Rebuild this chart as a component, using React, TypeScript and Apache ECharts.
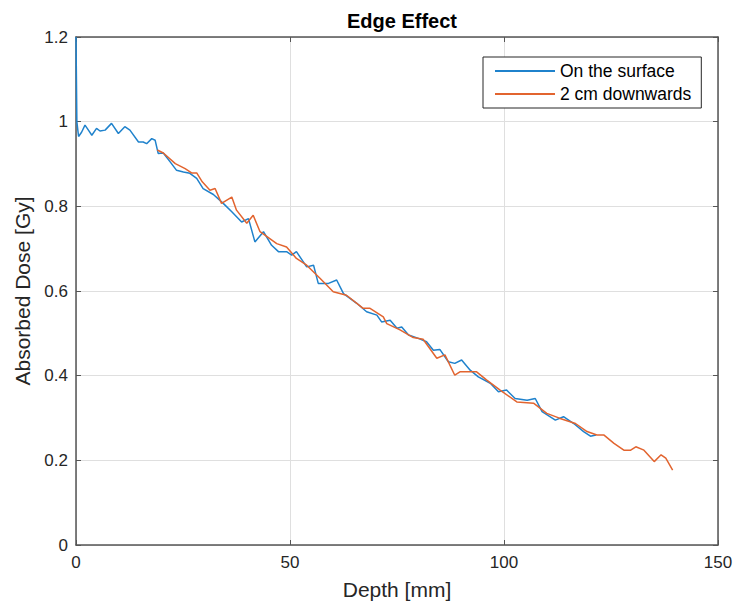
import React, { useEffect, useRef } from "react";
import * as echarts from "echarts";

const titleText = "Edge Effect";
const xName = "Depth [mm]";
const yName = "Absorbed Dose [Gy]";
const seriesNames = ["On the surface", "2 cm downwards"];

const surfaceDepth = [0, 0.2, 0.6, 1.3, 2.1, 2.9, 3.7, 4.8, 5.6, 6.8, 8.3, 9.9, 11.4, 12.6, 14.6, 15.7, 16.5, 17.7, 18.5, 19.2, 20.4, 22.0, 23.5, 25.1, 26.6, 28.2, 29.7, 32.1, 34.4, 36.4, 38.7, 40.3, 41.8, 43.8, 45.7, 47.3, 49.2, 50.4, 51.5, 53.9, 55.5, 56.6, 59.0, 60.9, 62.5, 65.6, 67.9, 70.3, 71.4, 73.4, 75.0, 76.1, 77.7, 80.0, 81.9, 83.5, 85.0, 87.0, 88.5, 90.1, 92.1, 94.0, 96.8, 98.7, 100.6, 102.6, 105.4, 107.3, 108.9, 112.0, 113.9, 116.3, 118.6, 120.2, 121.5];
const surfaceDose = [1.2, 1.0, 0.965, 0.975, 0.992, 0.98, 0.968, 0.984, 0.978, 0.98, 0.996, 0.972, 0.988, 0.98, 0.952, 0.952, 0.948, 0.96, 0.956, 0.925, 0.926, 0.905, 0.885, 0.881, 0.878, 0.866, 0.842, 0.828, 0.807, 0.787, 0.763, 0.771, 0.716, 0.74, 0.708, 0.693, 0.693, 0.685, 0.693, 0.657, 0.661, 0.618, 0.618, 0.626, 0.594, 0.571, 0.551, 0.543, 0.527, 0.531, 0.512, 0.515, 0.496, 0.488, 0.48, 0.46, 0.462, 0.433, 0.429, 0.437, 0.413, 0.397, 0.382, 0.362, 0.366, 0.346, 0.342, 0.346, 0.315, 0.295, 0.303, 0.287, 0.268, 0.257, 0.26];

const downDepth = [19.0, 20.4, 23.2, 25.5, 27.0, 28.2, 29.5, 31.3, 32.5, 34.0, 36.4, 37.5, 39.9, 41.4, 43.0, 46.9, 49.2, 51.5, 53.9, 57.0, 60.1, 63.2, 67.1, 68.7, 71.8, 72.6, 75.7, 78.8, 81.1, 84.3, 86.2, 88.5, 89.7, 93.6, 95.9, 99.1, 103.0, 106.9, 110.0, 113.1, 116.7, 119.4, 121.7, 123.3, 125.7, 128.0, 129.6, 130.8, 132.7, 135.1, 136.7, 137.8, 139.4];
const downDose = [0.933, 0.926, 0.901, 0.889, 0.879, 0.879, 0.858, 0.838, 0.842, 0.807, 0.822, 0.791, 0.76, 0.779, 0.74, 0.712, 0.704, 0.677, 0.661, 0.63, 0.598, 0.59, 0.559, 0.559, 0.539, 0.523, 0.508, 0.49, 0.486, 0.441, 0.449, 0.401, 0.409, 0.409, 0.39, 0.366, 0.338, 0.335, 0.311, 0.299, 0.287, 0.268, 0.26, 0.26, 0.24, 0.224, 0.224, 0.232, 0.224, 0.197, 0.213, 0.205, 0.177];

const FONT = "Liberation Sans, Arial, Helvetica, sans-serif";
const AXIS_COLOR = "#555555";
const BLUE = "#1f82cc";
const ORANGE = "#e2642f";

export default function App() {
  const ref = useRef<HTMLDivElement>(null);
  useEffect(() => {
    if (!ref.current) return;
    const chart = echarts.init(ref.current, undefined, { renderer: "svg" });
    const pair = (xs: number[], ys: number[]) => xs.map((x, i) => [x, ys[i]]);
    const axisCommon = {
      axisLine: { show: true, onZero: false, lineStyle: { color: AXIS_COLOR, width: 1.5 } },
      axisTick: { show: true, inside: true, length: 5, lineStyle: { color: AXIS_COLOR, width: 1 } },
    };
    chart.setOption({
      animation: false,
      backgroundColor: "#ffffff",
      textStyle: { fontFamily: FONT },
      title: {
        text: titleText,
        left: 397,
        textAlign: "center",
        top: 6,
        textStyle: { fontFamily: FONT, fontWeight: "bold", fontSize: 20, color: "#000" },
      },
      legend: {
        left: 483,
        top: 57,
        orient: "vertical",
        padding: [5, 10, 5, 12],
        itemGap: 5,
        itemWidth: 60,
        itemHeight: 2,
        icon: "rect",
        borderColor: "#262626",
        borderWidth: 1,
        backgroundColor: "#fff",
        textStyle: { fontFamily: FONT, fontSize: 17.5, color: "#000" },
        data: seriesNames,
      },
      grid: { left: 76, right: 19, top: 37, bottom: 60, containLabel: false },
      xAxis: [
        {
          type: "value",
          min: 0,
          max: 150,
          interval: 50,
          name: xName,
          nameLocation: "middle",
          nameGap: 34,
          nameTextStyle: { fontFamily: FONT, fontSize: 21, color: "#262626" },
          axisLabel: { fontFamily: FONT, fontSize: 17, color: "#262626", margin: 9 },
          splitLine: { show: true, lineStyle: { color: "#dfdfdf", width: 1 } },
          ...axisCommon,
        },
        {
          type: "value",
          position: "top",
          min: 0,
          max: 150,
          interval: 50,
          axisLabel: { show: false },
          splitLine: { show: false },
          ...axisCommon,
        },
      ],
      yAxis: [
        {
          type: "value",
          min: 0,
          max: 1.2,
          interval: 0.2,
          name: yName,
          nameLocation: "middle",
          nameGap: 43,
          nameRotate: 90,
          nameTextStyle: { fontFamily: FONT, fontSize: 21, color: "#262626" },
          axisLabel: { fontFamily: FONT, fontSize: 17, color: "#262626", margin: 8 },
          splitLine: { show: true, lineStyle: { color: "#dfdfdf", width: 1 } },
          ...axisCommon,
        },
        {
          type: "value",
          position: "right",
          min: 0,
          max: 1.2,
          interval: 0.2,
          axisLabel: { show: false },
          splitLine: { show: false },
          ...axisCommon,
        },
      ],
      series: [
        {
          name: seriesNames[0],
          type: "line",
          showSymbol: false,
          xAxisIndex: 0,
          yAxisIndex: 0,
          color: BLUE,
          lineStyle: { width: 1.5, color: BLUE },
          data: pair(surfaceDepth, surfaceDose),
        },
        {
          name: seriesNames[1],
          type: "line",
          showSymbol: false,
          xAxisIndex: 0,
          yAxisIndex: 0,
          color: ORANGE,
          lineStyle: { width: 1.5, color: ORANGE },
          data: pair(downDepth, downDose),
        },
      ],
    });
    return () => chart.dispose();
  }, []);
  return (
    <div
      ref={ref}
      style={{ position: "absolute", left: 0, top: 0, width: 737, height: 605, background: "#fff" }}
    />
  );
}
